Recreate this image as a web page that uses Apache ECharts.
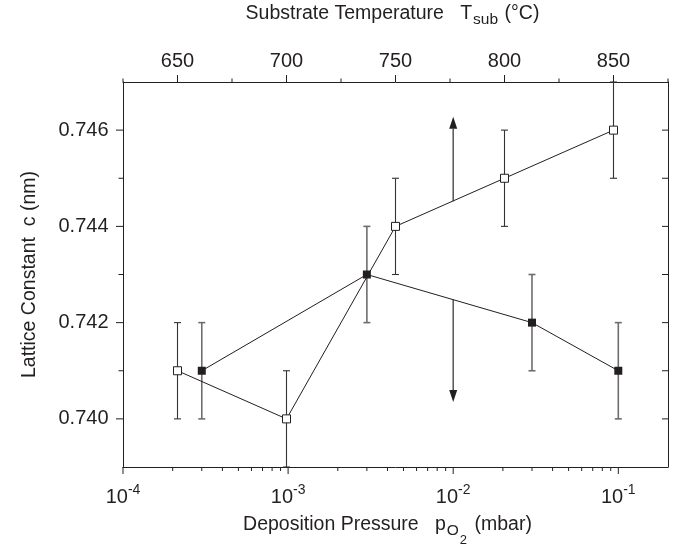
<!DOCTYPE html>
<html>
<head>
<meta charset="utf-8">
<script src="https://cdn.jsdelivr.net/npm/echarts@6/dist/echarts.min.js"></script>
<style>
html, body { margin: 0; padding: 0; background: #fff; }
#chart { width: 674px; height: 547px; }
</style>
</head>
<body>
<div id="chart"></div>
<script>
// bottom axis : deposition pressure (mbar), filled squares
const pressure     = [3e-4, 3e-3, 3e-2, 1e-1];
const cPressure    = [0.741, 0.743, 0.742, 0.741];
const errPressure  = [0.001, 0.001, 0.001, 0.001];

// top axis : substrate temperature (°C), open squares
const temperature    = [650, 700, 750, 800, 850];
const cTemperature   = [0.741, 0.740, 0.744, 0.745, 0.746];
const errTemperature = [0.001, 0.001, 0.001, 0.001, 0.001];

// arrows at p = 1e-2 mbar, [from, to]
const arrowX    = 1e-2;
const arrowUp   = [0.74452, 0.74628];
const arrowDown = [0.74248, 0.74035];

// axis ranges and ticks
const pRange = [1e-4, 0.2];
const tRange = [625, 875];
const cRange = [0.739, 0.747];
const pMajor = [1e-4, 1e-3, 1e-2, 1e-1];
const pMinor = [2e-4, 3e-4, 4e-4, 5e-4, 6e-4, 7e-4, 8e-4, 9e-4,
                2e-3, 3e-3, 4e-3, 5e-3, 6e-3, 7e-3, 8e-3, 9e-3,
                2e-2, 3e-2, 4e-2, 5e-2, 6e-2, 7e-2, 8e-2, 9e-2];
const tMajor = [650, 700, 750, 800, 850];
const tMinor = [625, 675, 725, 775, 825, 875];
const cMajor = [0.740, 0.742, 0.744, 0.746];
const cMinor = [0.741, 0.743, 0.745];

const font = 'Liberation Sans, Arial, Helvetica, sans-serif';
const ink  = '#231f20';

const chart = echarts.init(document.getElementById('chart'));

//틱 그리기 (축 위의 점에서 dx, dy 만큼)
function tickSeries(xIndex, points, dx, dy) {
	return {
		type: 'custom', xAxisIndex: xIndex, yAxisIndex: 0,
		silent: true, clip: false, z: 5,
		data: points,
		renderItem: function (params, api) {
			const p = api.coord([api.value(0), api.value(1)]);
			return {
				type: 'line',
				shape: { x1: p[0], y1: p[1], x2: p[0] + dx, y2: p[1] + dy },
				style: { stroke: ink, lineWidth: 1 }
			};
		}
	};
}

//오차 막대
function errorSeries(xIndex, xs, ys, errs, color, width) {
	return {
		type: 'custom', xAxisIndex: xIndex, yAxisIndex: 0,
		silent: true, clip: false, z: 1,
		data: xs.map((x, i) => [x, ys[i] - errs[i], ys[i] + errs[i]]),
		renderItem: function (params, api) {
			const lo = api.coord([api.value(0), api.value(1)]);
			const hi = api.coord([api.value(0), api.value(2)]);
			const w  = 3.5;
			const st = { stroke: color, lineWidth: width };
			return {
				type: 'group',
				children: [
					{ type: 'line', shape: { x1: lo[0], y1: lo[1], x2: hi[0], y2: hi[1] }, style: st },
					{ type: 'line', shape: { x1: lo[0] - w, y1: lo[1], x2: lo[0] + w, y2: lo[1] }, style: st },
					{ type: 'line', shape: { x1: hi[0] - w, y1: hi[1], x2: hi[0] + w, y2: hi[1] }, style: st }
				]
			};
		}
	};
}

// 아래첨자는 padding-top 으로 내림 (middle 정렬 기준 padding/2 만큼)
const nameRich = {
	n:  { fontFamily: font, fontSize: 19.5, color: ink, lineHeight: 40 },
	s1: { fontFamily: font, fontSize: 15.5, color: ink, lineHeight: 14, padding: [12, 1, 0, 1] },
	s2: { fontFamily: font, fontSize: 13, color: ink, lineHeight: 10, padding: [30, 2, 0, 0] }
};

const option = {
	animation: false,
	backgroundColor: '#fff',
	grid: { left: 123, right: 6, top: 82, bottom: 80, containLabel: false, outerBoundsMode: 'none' },
	xAxis: [
		{
			type: 'log', position: 'bottom', logBase: 10,
			min: pRange[0], max: pRange[1],
			axisLine: { lineStyle: { color: ink, width: 1 } },
			axisTick: { show: false },
			splitLine: { show: false },
			axisLabel: {
				margin: 16,
				formatter: function (v) {
					const e = Math.log10(v);
					if (Math.abs(e - Math.round(e)) > 1e-6) return '';
					return '{b|10}{s|' + Math.round(e) + '}';
				},
				rich: {
					b: { fontFamily: font, fontSize: 20, color: ink, lineHeight: 28 },
					s: { fontFamily: font, fontSize: 14, color: ink, lineHeight: 14, verticalAlign: 'top' }
				}
			},
			name: '{n|Deposition Pressure   p}{s1|O}{s2|2}{n| (mbar)}',
			nameLocation: 'middle', nameGap: 38, nameMoveOverlap: false,
			nameTextStyle: { rich: nameRich, padding: [0, 16, 0, 0] }
		},
		{
			type: 'value', position: 'top',
			min: tRange[0], max: tRange[1], interval: 25,
			axisLine: { lineStyle: { color: ink, width: 1 } },
			axisTick: { show: false },
			splitLine: { show: false },
			axisLabel: {
				margin: 11, fontFamily: font, fontSize: 20, color: ink,
				formatter: v => (v % 50 === 0 ? String(v) : '')
			},
			name: '{n|Substrate Temperature   T}{s1|sub}{n| (°C)}',
			nameLocation: 'middle', nameGap: 48.5, nameMoveOverlap: false,
			nameTextStyle: { rich: nameRich, padding: [0, 6, 0, 0] }
		}
	],
	yAxis: [
		{
			type: 'value', position: 'left',
			min: cRange[0], max: cRange[1], interval: 0.001,
			axisLine: { lineStyle: { color: ink, width: 1 } },
			axisTick: { show: false },
			splitLine: { show: false },
			axisLabel: {
				margin: 14.5, fontFamily: font, fontSize: 20, color: ink,
				formatter: v => (Math.round(v * 1000) % 2 === 0 && v > cRange[0] && v < cRange[1] ? v.toFixed(3) : '')
			},
			name: 'Lattice Constant  c (nm)',
			nameLocation: 'middle', nameGap: 83, nameMoveOverlap: false,
			nameTextStyle: { fontFamily: font, fontSize: 19.5, color: ink }
		},
		{
			type: 'value', position: 'right',
			min: cRange[0], max: cRange[1],
			axisLine: { lineStyle: { color: ink, width: 1 } },
			axisTick: { show: false },
			axisLabel: { show: false },
			splitLine: { show: false }
		}
	],
	series: [
		errorSeries(0, pressure, cPressure, errPressure, '#6d6d6d', 1.6),
		errorSeries(1, temperature, cTemperature, errTemperature, '#333', 1.1),
		{
			type: 'custom', xAxisIndex: 0, yAxisIndex: 0, silent: true, clip: false, z: 1,
			data: [[arrowX, arrowUp[0], arrowUp[1]], [arrowX, arrowDown[0], arrowDown[1]]],
			renderItem: function (params, api) {
				const a = api.coord([api.value(0), api.value(1)]);
				const b = api.coord([api.value(0), api.value(2)]);
				const dir  = b[1] < a[1] ? -1 : 1;
				const base = b[1] - dir * 12;
				return {
					type: 'group',
					children: [
						{ type: 'line', shape: { x1: a[0], y1: a[1], x2: b[0], y2: base }, style: { stroke: '#555', lineWidth: 1.5 } },
						{ type: 'polygon', shape: { points: [[b[0], b[1]], [b[0] - 4, base], [b[0] + 4, base]] }, style: { fill: ink } }
					]
				};
			}
		},
		{
			name: 'pressure', type: 'line', xAxisIndex: 0, yAxisIndex: 0, z: 3,
			data: pressure.map((p, i) => [p, cPressure[i]]),
			symbol: 'rect', symbolSize: 8,
			lineStyle: { color: ink, width: 1 },
			itemStyle: { color: ink }
		},
		{
			name: 'temperature', type: 'line', xAxisIndex: 1, yAxisIndex: 0, z: 3,
			data: temperature.map((t, i) => [t, cTemperature[i]]),
			symbol: 'rect', symbolSize: 8,
			lineStyle: { color: ink, width: 1 },
			itemStyle: { color: '#fff', borderColor: ink, borderWidth: 1 }
		},
		tickSeries(0, pMajor.map(v => [v, cRange[0]]), 0, 7),
		tickSeries(0, pMinor.map(v => [v, cRange[0]]), 0, 4),
		tickSeries(1, tMajor.map(v => [v, cRange[1]]), 0, -7),
		tickSeries(1, tMinor.map(v => [v, cRange[1]]), 0, -3.5),
		tickSeries(0, cMajor.map(v => [pRange[0], v]), -7, 0),
		tickSeries(0, cMinor.map(v => [pRange[0], v]), -4.5, 0),
		tickSeries(0, cMajor.concat(cMinor).map(v => [pRange[1], v]), -6, 0)
	]
};

chart.setOption(option);
</script>
</body>
</html>
